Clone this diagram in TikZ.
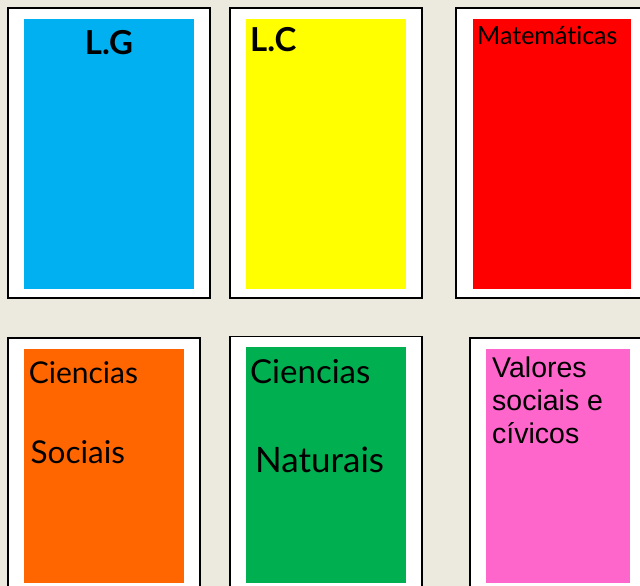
\documentclass[tikz,border=0pt]{standalone}
\usepackage{fontspec}
\setmainfont{Liberation Sans}
\newfontfamily\comic[Ligatures=NoCommon]{Lato}
\definecolor{bgc}{HTML}{ECE9DF}
\definecolor{cblue}{HTML}{00B0F0}
\definecolor{cyellow}{HTML}{FFFF00}
\definecolor{cred}{HTML}{FF0000}
\definecolor{corange}{HTML}{FF6600}
\definecolor{cgreen}{HTML}{00AF50}
\definecolor{cpink}{HTML}{FF66CC}
\tikzset{
  card/.style={draw=black, fill=white, line width=1.6pt},
  lbl/.style={anchor=base west, inner sep=0pt, text=black},
}
\begin{document}
\begin{tikzpicture}[x=1pt,y=-1pt]
\useasboundingbox (0,0) rectangle (640,586);
\fill[bgc] (0,0) rectangle (640,586);
\clip (0,0) rectangle (640,586);
% cards
\path[card] (8,8) rectangle (210,298);
\path[card] (230,8) rectangle (422,298);
\path[card] (456,8) rectangle (680,298);
\path[card] (8,338) rectangle (200,620);
\path[card] (230,336.5) rectangle (422,620);
\path[card] (470,338) rectangle (680,620);
% faces
\fill[cblue] (24,19) rectangle (194,289);
\fill[cyellow] (246,19) rectangle (406,289);
\fill[cred] (473,19) rectangle (631,289);
\fill[corange] (24,349) rectangle (184,583);
\fill[cgreen] (246,347) rectangle (406,583);
\fill[cpink] (486,349) rectangle (630,583);
% labels
\node[anchor=base, inner sep=0pt] (lg) at (109,55) {\comic\bfseries\fontsize{33}{33}\selectfont L.G};
\node[lbl] (lc) at (250,52) {\comic\bfseries\fontsize{33}{33}\selectfont L.C};
\node[lbl] (mat) at (477,45) {\comic\fontsize{25}{25}\selectfont Matemáticas};
\node[lbl] (cs1) at (28.6,383) {\comic\fontsize{30}{30}\selectfont Ciencias};
\node[lbl] (cs2) at (30.5,463) {\comic\fontsize{31.5}{31.5}\selectfont Sociais};
\node[lbl] (cn1) at (250,383) {\comic\fontsize{33}{33}\selectfont Ciencias};
\node[lbl] (cn2) at (255,472) {\comic\fontsize{35}{35}\selectfont Naturais};
\node[lbl] (v1) at (492,377) {\fontsize{28.5}{28.5}\selectfont Valores};
\node[lbl] (v2) at (492,410) {\fontsize{28.5}{28.5}\selectfont sociais e};
\node[lbl] (v3) at (492,443) {\fontsize{28.5}{28.5}\selectfont cívicos};
\end{tikzpicture}
\end{document}
